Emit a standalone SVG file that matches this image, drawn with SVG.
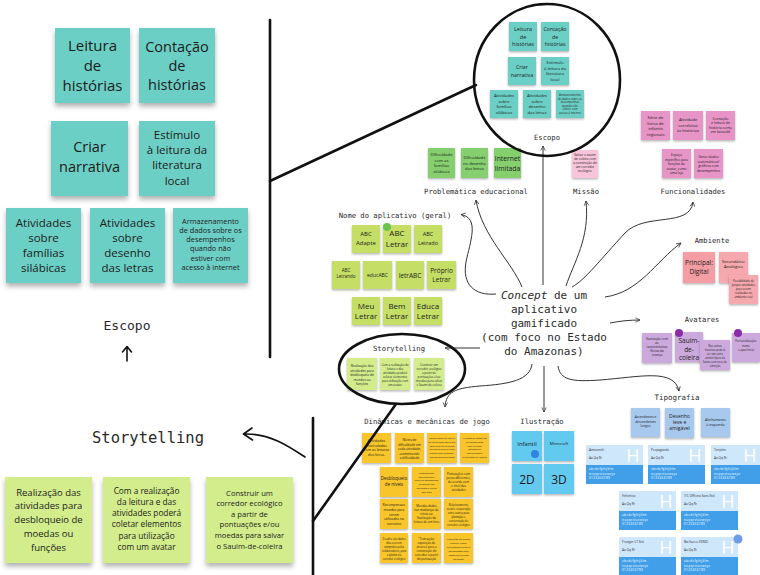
<svg xmlns="http://www.w3.org/2000/svg" width="760" height="575" viewBox="0 0 760 575">
<style>
.s{font-family:"Open Sans","Noto Sans",sans-serif;fill:#1c1c1c;text-anchor:middle}
.m{font-family:"DejaVu Sans Mono","Liberation Mono",monospace;fill:#2a2a2a;text-anchor:middle}
.teal{fill:#6CCFC5}.grn{fill:#86CF6E}.lime{fill:#C5DF66}.lg{fill:#D3EC8C}.pk{fill:#F7C4D9}.mg{fill:#E795C6}.sal{fill:#F39DA4}.sal2{fill:#F5A8AE}.lav{fill:#CCA9DD}.yel{fill:#F8C52C}.blu{fill:#62C9EF}.per{fill:#A8C9EE}
.big{filter:url(#sh)}.sm{filter:url(#ss)}
.thick{fill:none;stroke:#111;stroke-width:2.6;stroke-linecap:round}
.con{fill:none;stroke:#333;stroke-width:1;marker-end:url(#ah)}
.hand{fill:none;stroke:#111;stroke-width:1.6;stroke-linecap:round;stroke-linejoin:round}
.ct{fill:#CFE7FB}.cb{fill:#419FEA}
.t1{font-family:"Open Sans",sans-serif;font-size:3.2px;fill:#333}
.t2{font-family:"Open Sans",sans-serif;font-size:3px;fill:#fff;letter-spacing:0.4px}
.H{font-family:"Open Sans",sans-serif;font-size:18px;fill:#fff;text-anchor:middle}
</style>
<defs>
<filter id="sh" x="-15%" y="-15%" width="130%" height="145%"><feDropShadow dx="0" dy="3.5" stdDeviation="2.5" flood-color="#000" flood-opacity="0.3"/></filter>
<filter id="ss" x="-15%" y="-15%" width="130%" height="145%"><feDropShadow dx="0" dy="1.3" stdDeviation="0.9" flood-color="#000" flood-opacity="0.3"/></filter>
<marker id="ah" viewBox="0 0 8 8" refX="7" refY="4" markerWidth="6" markerHeight="6" orient="auto" markerUnits="userSpaceOnUse"><path d="M1,1 L7,4 L1,7" fill="none" stroke="#333" stroke-width="1"/></marker>
</defs>
<rect width="760" height="575" fill="#fff"/>

<!-- Left panel: Escopo -->
<g id="esc-big-1"><rect class="teal big" x="55" y="28" width="75" height="75"/><text class="s" font-size="15"><tspan x="92.5" y="51">Leitura</tspan><tspan x="92.5" y="71">de</tspan><tspan x="92.5" y="91">histórias</tspan></text></g>
<g id="esc-big-2"><rect class="teal big" x="139" y="28" width="76" height="75"/><text class="s" font-size="14.5"><tspan x="177" y="52">Contação</tspan><tspan x="177" y="71">de</tspan><tspan x="177" y="90">histórias</tspan></text></g>
<g id="esc-big-3"><rect class="teal big" x="51" y="121" width="77" height="75"/><text class="s" font-size="14.5"><tspan x="89.5" y="152">Criar</tspan><tspan x="89.5" y="172">narrativa</tspan></text></g>
<g id="esc-big-4"><rect class="teal big" x="139" y="121" width="76" height="75"/><text class="s" font-size="11.5"><tspan x="177" y="139">Estímulo</tspan><tspan x="177" y="154">à leitura da</tspan><tspan x="177" y="169">literatura</tspan><tspan x="177" y="185">local</tspan></text></g>
<g id="esc-big-5"><rect class="teal big" x="6" y="208" width="75" height="75"/><text class="s" font-size="11.5"><tspan x="43.5" y="227">Atividades</tspan><tspan x="43.5" y="242">sobre</tspan><tspan x="43.5" y="257">famílias</tspan><tspan x="43.5" y="272">silábicas</tspan></text></g>
<g id="esc-big-6"><rect class="teal big" x="90" y="208" width="75" height="75"/><text class="s" font-size="11.5"><tspan x="127.5" y="227">Atividades</tspan><tspan x="127.5" y="242">sobre</tspan><tspan x="127.5" y="257">desenho</tspan><tspan x="127.5" y="272">das letras</tspan></text></g>
<g id="esc-big-7"><rect class="teal big" x="173" y="208" width="75" height="75"/><text class="s" font-size="7.3"><tspan x="210.5" y="223.5">Armazenamento</tspan><tspan x="210.5" y="232.8">de dados sobre os</tspan><tspan x="210.5" y="242">desempenhos</tspan><tspan x="210.5" y="251.4">quando não</tspan><tspan x="210.5" y="260.7">estiver com</tspan><tspan x="210.5" y="270">acesso à internet</tspan></text></g>
<g id="esc-big-label"><text class="m" x="127" y="330" font-size="13">Escopo</text><path class="hand" d="M127,361 V347 M122.5,352 L127,346.5 L131.5,352"/></g>

<!-- Left panel: Storytelling -->
<g id="story-big-label"><text class="m" x="148" y="443" font-size="15.5">Storytelling</text><path class="hand" d="M305,457 C290,447 270,433 244,434 M252,428 L243.5,434 L252.5,440"/></g>
<g id="story-big-1"><rect class="lg big" x="5" y="477" width="87" height="86"/><text class="s" font-size="9.5"><tspan x="48.5" y="495.5">Realização das</tspan><tspan x="48.5" y="509">atividades para</tspan><tspan x="48.5" y="522.5">desbloqueio de</tspan><tspan x="48.5" y="536.5">moedas ou</tspan><tspan x="48.5" y="550.5">funções</tspan></text></g>
<g id="story-big-2"><rect class="lg big" x="103" y="477" width="87" height="86"/><text class="s" font-size="8.3"><tspan x="146.5" y="493.5">Com a realização</tspan><tspan x="146.5" y="504.5">da leitura e das</tspan><tspan x="146.5" y="516">atividades poderá</tspan><tspan x="146.5" y="527">coletar elementos</tspan><tspan x="146.5" y="538.5">para utilização</tspan><tspan x="146.5" y="549.5">com um avatar</tspan></text></g>
<g id="story-big-3"><rect class="lg big" x="206" y="477" width="87" height="86"/><text class="s" font-size="7.6"><tspan x="249.5" y="496">Construir um</tspan><tspan x="249.5" y="506">corredor ecológico</tspan><tspan x="249.5" y="516.5">a partir de</tspan><tspan x="249.5" y="527">pontuações e/ou</tspan><tspan x="249.5" y="538">moedas para salvar</tspan><tspan x="249.5" y="549">o Sauim-de-coleira</tspan></text></g>

<!-- Center: concept -->
<g id="concept"><text class="m" font-size="11"><tspan x="544" y="298.5"><tspan font-style="italic">Concept</tspan> de um</tspan><tspan x="544" y="312.5">aplicativo</tspan><tspan x="544" y="326.5">gamificado</tspan><tspan x="544" y="340.5">(com foco no Estado</tspan><tspan x="544" y="354.5">do Amazonas)</tspan></text></g>

<!-- Escopo small -->
<g id="escopo">
<rect class="teal sm" x="509" y="22" width="28" height="29"/><text class="s" font-size="5.5"><tspan x="523" y="31">Leitura</tspan><tspan x="523" y="38.5">de</tspan><tspan x="523" y="46">histórias</tspan></text>
<rect class="teal sm" x="541" y="22" width="28" height="29"/><text class="s" font-size="5.2"><tspan x="555" y="31">Contação</tspan><tspan x="555" y="38.5">de</tspan><tspan x="555" y="46">histórias</tspan></text>
<rect class="teal sm" x="508" y="57" width="28" height="28"/><text class="s" font-size="5.3"><tspan x="522" y="68.5">Criar</tspan><tspan x="522" y="76.5">narrativa</tspan></text>
<rect class="teal sm" x="541" y="57" width="28" height="28"/><text class="s" font-size="4.2"><tspan x="555" y="64">Estímulo</tspan><tspan x="555" y="69.5">à leitura da</tspan><tspan x="555" y="75">literatura</tspan><tspan x="555" y="80.5">local</tspan></text>
<rect class="teal sm" x="490" y="90" width="28" height="28"/><text class="s" font-size="4.2"><tspan x="504" y="97">Atividades</tspan><tspan x="504" y="102.5">sobre</tspan><tspan x="504" y="108">famílias</tspan><tspan x="504" y="113.5">silábicas</tspan></text>
<rect class="teal sm" x="523" y="90" width="28" height="28"/><text class="s" font-size="4.2"><tspan x="537" y="97">Atividades</tspan><tspan x="537" y="102.5">sobre</tspan><tspan x="537" y="108">desenho</tspan><tspan x="537" y="113.5">das letras</tspan></text>
<rect class="teal sm" x="556" y="90" width="28" height="28"/><text class="s" font-size="2.8"><tspan x="570" y="96">Armazenamento</tspan><tspan x="570" y="99.5">de dados sobre os</tspan><tspan x="570" y="103">desempenhos</tspan><tspan x="570" y="106.5">quando não</tspan><tspan x="570" y="110">estiver com</tspan><tspan x="570" y="113.5">acesso à internet</tspan></text>
<text class="m" x="547" y="139.5" font-size="7.2">Escopo</text>
</g>

<!-- Problemática -->
<g id="problematica">
<rect class="grn sm" x="428" y="148" width="27" height="30"/><text class="s" font-size="4.2"><tspan x="441.5" y="156">Dificuldade</tspan><tspan x="441.5" y="161.5">com as</tspan><tspan x="441.5" y="167">famílias</tspan><tspan x="441.5" y="172.5">silábicas</tspan></text>
<rect class="grn sm" x="461" y="148" width="27" height="30"/><text class="s" font-size="4.2"><tspan x="474.5" y="159">Dificuldade</tspan><tspan x="474.5" y="164.5">no desenho</tspan><tspan x="474.5" y="170">das letras</tspan></text>
<rect class="grn sm" x="494" y="148" width="27" height="30"/><text class="s" font-size="6.8"><tspan x="507.5" y="160.5">Internet</tspan><tspan x="507.5" y="170.5">limitada</tspan></text>
<text class="m" x="476" y="193.5" font-size="7.2">Problemática educacional</text>
</g>

<!-- Missão -->
<g id="missao">
<rect class="pk sm" x="572" y="150" width="26" height="28"/><text class="s" font-size="3.2"><tspan x="585" y="156">Salvar o sauim</tspan><tspan x="585" y="160">de coleira com</tspan><tspan x="585" y="164">a construção de</tspan><tspan x="585" y="168">um corredor</tspan><tspan x="585" y="172">ecológico</tspan></text>
<text class="m" x="586" y="193.5" font-size="7.2">Missão</text>
</g>

<!-- Funcionalidades -->
<g id="funcionalidades">
<rect class="mg sm" x="641" y="111" width="29" height="29"/><text class="s" font-size="4.2"><tspan x="655.5" y="119">Série de</tspan><tspan x="655.5" y="124.5">livros de</tspan><tspan x="655.5" y="130">infantis</tspan><tspan x="655.5" y="135.5">regionais</tspan></text>
<rect class="mg sm" x="673" y="111" width="30" height="29"/><text class="s" font-size="4.2"><tspan x="688" y="121">Atividade</tspan><tspan x="688" y="126.5">correlatas</tspan><tspan x="688" y="132">às histórias</tspan></text>
<rect class="mg sm" x="706" y="111" width="29" height="29"/><text class="s" font-size="3.6"><tspan x="720.5" y="119.5">Contação</tspan><tspan x="720.5" y="124">e leitura de</tspan><tspan x="720.5" y="128.5">história como</tspan><tspan x="720.5" y="133">em karaokê</tspan></text>
<rect class="mg sm" x="662" y="149" width="29" height="29"/><text class="s" font-size="3.3"><tspan x="676.5" y="156">Espaço</tspan><tspan x="676.5" y="160.5">específico para</tspan><tspan x="676.5" y="165">funções do</tspan><tspan x="676.5" y="169.5">avatar, como</tspan><tspan x="676.5" y="174">uma loja</tspan></text>
<rect class="mg sm" x="694" y="149" width="29" height="29"/><text class="s" font-size="3.5"><tspan x="708.5" y="158">Gerar dados</tspan><tspan x="708.5" y="162.5">automáticos/</tspan><tspan x="708.5" y="167">gráficos com</tspan><tspan x="708.5" y="171.5">desempenhos</tspan></text>
<text class="m" x="693" y="194" font-size="7.2">Funcionalidades</text>
</g>

<!-- Nome do aplicativo -->
<g id="nome">
<text class="m" x="395" y="217.5" font-size="7.2">Nome do aplicativo (geral)</text>
<rect class="lime sm" x="352" y="225" width="28" height="28"/><text class="s" font-size="6"><tspan x="366" y="236">ABC</tspan><tspan x="366" y="245">Adapte</tspan></text>
<rect class="lime sm" x="383" y="225" width="28" height="28"/><text class="s" font-size="8"><tspan x="397" y="235.5">ABC</tspan><tspan x="397" y="246.5">Letrar</tspan></text>
<circle cx="387" cy="227" r="4" fill="#6CC24A"/>
<rect class="lime sm" x="414" y="225" width="28" height="28"/><text class="s" font-size="5.5"><tspan x="428" y="236">ABC</tspan><tspan x="428" y="244.5">Letrado</tspan></text>
<rect class="lime sm" x="332" y="261" width="28" height="28"/><text class="s" font-size="4.5"><tspan x="346" y="272">ABC</tspan><tspan x="346" y="278">Letrando</tspan></text>
<rect class="lime sm" x="363" y="261" width="29" height="28"/><text class="s" font-size="5" x="377.5" y="277">educABC</text>
<rect class="lime sm" x="396" y="261" width="28" height="28"/><text class="s" font-size="6.5" x="410" y="277.5">letrABC</text>
<rect class="lime sm" x="427" y="261" width="29" height="28"/><text class="s" font-size="6.5"><tspan x="441.5" y="273">Próprio</tspan><tspan x="441.5" y="282">Letrar</tspan></text>
<rect class="lime sm" x="352" y="297" width="28" height="28"/><text class="s" font-size="8"><tspan x="366" y="308.5">Meu</tspan><tspan x="366" y="319">Letrar</tspan></text>
<rect class="lime sm" x="383" y="297" width="28" height="28"/><text class="s" font-size="8"><tspan x="397" y="308.5">Bem</tspan><tspan x="397" y="319">Letrar</tspan></text>
<rect class="lime sm" x="414" y="297" width="28" height="28"/><text class="s" font-size="8"><tspan x="428" y="308.5">Educa</tspan><tspan x="428" y="319">Letrar</tspan></text>
</g>

<!-- Storytelling small -->
<g id="storytelling">
<text class="m" x="399" y="350.5" font-size="7.2">Storytelling</text>
<rect class="lg sm" x="347" y="358" width="30" height="32"/><text class="s" font-size="3.3"><tspan x="362" y="367">Realização das</tspan><tspan x="362" y="371.5">atividades para</tspan><tspan x="362" y="376">desbloqueio de</tspan><tspan x="362" y="380.5">moedas ou</tspan><tspan x="362" y="385">funções</tspan></text>
<rect class="lg sm" x="380" y="358" width="30" height="32"/><text class="s" font-size="2.9"><tspan x="395" y="366">Com a realização da</tspan><tspan x="395" y="370">leitura e das</tspan><tspan x="395" y="374">atividades poderá</tspan><tspan x="395" y="378">coletar elementos</tspan><tspan x="395" y="382">para utilização com</tspan><tspan x="395" y="386">um avatar</tspan></text>
<rect class="lg sm" x="414" y="358" width="30" height="32"/><text class="s" font-size="2.9"><tspan x="429" y="366">Construir um</tspan><tspan x="429" y="370">corredor ecológico</tspan><tspan x="429" y="374">a partir de</tspan><tspan x="429" y="378">pontuações e/ou</tspan><tspan x="429" y="382">moedas para salvar</tspan><tspan x="429" y="386">o Sauim-de-coleira</tspan></text>
</g>

<!-- Ambiente -->
<g id="ambiente">
<text class="m" x="712" y="242.5" font-size="7.2">Ambiente</text>
<rect class="sal sm" x="683" y="252" width="32" height="31"/><text class="s" font-size="6.5"><tspan x="699" y="265">Principal:</tspan><tspan x="699" y="274">Digital</tspan></text>
<rect class="sal2 sm" x="719" y="252" width="29" height="31"/><text class="s" font-size="4.2"><tspan x="733.5" y="263">Secundário:</tspan><tspan x="733.5" y="268">Analógico</tspan></text>
<rect class="sal2 sm" x="729" y="275" width="29" height="29"/><text class="s" font-size="2.8"><tspan x="743.5" y="281.5">Possibilidade de</tspan><tspan x="743.5" y="285.5">propor atividades</tspan><tspan x="743.5" y="289.5">para serem</tspan><tspan x="743.5" y="293.5">realizadas no</tspan><tspan x="743.5" y="297.5">ambiente real</tspan></text>
</g>

<!-- Avatares -->
<g id="avatares">
<text class="m" x="702" y="321.5" font-size="7.2">Avatares</text>
<rect class="lav sm" x="642" y="333" width="30" height="30"/><text class="s" font-size="3.2"><tspan x="657" y="340">Ilustração com</tspan><tspan x="657" y="344">as</tspan><tspan x="657" y="348">características</tspan><tspan x="657" y="352">físicas da</tspan><tspan x="657" y="356">criança</tspan></text>
<rect class="lav sm" x="675" y="332" width="28" height="30"/><text class="s" font-size="6.5"><tspan x="689" y="343">Sauim-</tspan><tspan x="689" y="351.5">de-</tspan><tspan x="689" y="360">coleira</tspan></text>
<circle cx="679" cy="333" r="4" fill="#8B2BA6"/>
<rect class="lav sm" x="700" y="340" width="30" height="30"/><text class="s" font-size="2.7"><tspan x="715" y="347">Nas outras</tspan><tspan x="715" y="351">histórias poderá</tspan><tspan x="715" y="355">ser um outro</tspan><tspan x="715" y="359">animal típico da</tspan><tspan x="715" y="363">fauna com risco de</tspan><tspan x="715" y="367">extinção</tspan></text>
<rect class="lav sm" x="732" y="333" width="28" height="29"/><text class="s" font-size="3"><tspan x="746" y="342">Personalização:</tspan><tspan x="746" y="346.5">nome</tspan><tspan x="746" y="351">e aparência</tspan></text>
<circle cx="738" cy="333" r="4" fill="#8B2BA6"/>
</g>

<!-- Dinâmicas -->
<g id="dinamicas">
<text class="m" x="427" y="423.5" font-size="7.2">Dinâmicas e mecânicas de jogo</text>
<rect class="yel sm" x="362" y="433" width="29" height="30"/><text class="s" font-size="3.6"><tspan x="376.5" y="442">Atividades</tspan><tspan x="376.5" y="446.5">intercaladas</tspan><tspan x="376.5" y="451">com as leituras</tspan><tspan x="376.5" y="455.5">dos livros.</tspan></text>
<rect class="yel sm" x="395" y="433" width="29" height="30"/><text class="s" font-size="3.3"><tspan x="409.5" y="441">Níveis de</tspan><tspan x="409.5" y="445.5">dificuldade em</tspan><tspan x="409.5" y="450">cada atividade,</tspan><tspan x="409.5" y="454.5">aumentando</tspan><tspan x="409.5" y="459">a dificuldade</tspan></text>
<rect class="yel sm" x="427" y="433" width="30" height="30"/><text class="s" font-size="2.4"><tspan x="442" y="439">Possibilidade de repetir</tspan><tspan x="442" y="442.8">os níveis caso não atinja</tspan><tspan x="442" y="446.6">bom nível na atividade</tspan><tspan x="442" y="450.4">ou queira refazer para</tspan><tspan x="442" y="454.2">ganhar mais moedas /</tspan><tspan x="442" y="458">pontos movimentados</tspan></text>
<rect class="yel sm" x="460" y="433" width="29" height="30"/><text class="s" font-size="2.4"><tspan x="474.5" y="439">Ativação de ações nas</tspan><tspan x="474.5" y="442.8">atividades após</tspan><tspan x="474.5" y="446.6">finalizar com</tspan><tspan x="474.5" y="450.4">mensagens</tspan><tspan x="474.5" y="454.2">motivacionais</tspan><tspan x="474.5" y="458">e indicação de reforço</tspan></text>
<rect class="yel sm" x="380" y="467" width="28" height="30"/><text class="s" font-size="4.5"><tspan x="394" y="480">Desbloqueio</tspan><tspan x="394" y="486">de níveis</tspan></text>
<rect class="yel sm" x="412" y="467" width="29" height="30"/><text class="s" font-size="2.3"><tspan x="426.5" y="474">Recompensas</tspan><tspan x="426.5" y="477.7">colecionáveis a</tspan><tspan x="426.5" y="481.4">partir do desempenho</tspan><tspan x="426.5" y="485.1">do jogador nas</tspan><tspan x="426.5" y="488.8">atividades e leitura</tspan><tspan x="426.5" y="492.5">dos livros</tspan></text>
<rect class="yel sm" x="444" y="467" width="29" height="30"/><text class="s" font-size="3"><tspan x="458.5" y="475">Pontuações com</tspan><tspan x="458.5" y="479">pesos diferentes,</tspan><tspan x="458.5" y="483">de acordo com</tspan><tspan x="458.5" y="487">o nível das</tspan><tspan x="458.5" y="491">atividades</tspan></text>
<rect class="yel sm" x="380" y="499" width="28" height="30"/><text class="s" font-size="3.4"><tspan x="394" y="506">Recompensas:</tspan><tspan x="394" y="510.8">moedas para</tspan><tspan x="394" y="515.6">serem</tspan><tspan x="394" y="520.4">utilizadas na</tspan><tspan x="394" y="525.2">narrativa</tspan></text>
<rect class="yel sm" x="412" y="499" width="29" height="30"/><text class="s" font-size="3"><tspan x="426.5" y="507">Moedas dadas</tspan><tspan x="426.5" y="511">nas mudanças de</tspan><tspan x="426.5" y="515">níveis ou</tspan><tspan x="426.5" y="519">finalização da</tspan><tspan x="426.5" y="523">leitura de um livro</tspan></text>
<rect class="yel sm" x="444" y="499" width="29" height="30"/><text class="s" font-size="2.6"><tspan x="458.5" y="506">Relacionamento</tspan><tspan x="458.5" y="510">social e cooperação</tspan><tspan x="458.5" y="514">entre outros para</tspan><tspan x="458.5" y="518">plantação e</tspan><tspan x="458.5" y="522">conservação do</tspan><tspan x="458.5" y="526">corredor ecológico</tspan></text>
<rect class="yel sm" x="380" y="533" width="28" height="30"/><text class="s" font-size="2.6"><tspan x="394" y="540">Desafio: são dados</tspan><tspan x="394" y="544">dias a serem</tspan><tspan x="394" y="548">cumpridos pelos</tspan><tspan x="394" y="552">colaboradores, para</tspan><tspan x="394" y="556">o plantio no</tspan><tspan x="394" y="560">corredor ecológico</tspan></text>
<rect class="yel sm" x="412" y="533" width="29" height="30"/><text class="s" font-size="3"><tspan x="426.5" y="540">"Transação:</tspan><tspan x="426.5" y="544">aquisição de</tspan><tspan x="426.5" y="548">árvores para a</tspan><tspan x="426.5" y="552">construção do</tspan><tspan x="426.5" y="556">corredor a partir</tspan><tspan x="426.5" y="560">da pontuação</tspan></text>
<rect class="yel sm" x="444" y="533" width="29" height="30"/><text class="s" font-size="2.5"><tspan x="458.5" y="540">Ilustração de árvore</tspan><tspan x="458.5" y="544">plantar: visual</tspan><tspan x="458.5" y="548">interessante quanto</tspan><tspan x="458.5" y="552">adicionados para</tspan><tspan x="458.5" y="556">conquista (aliado</tspan><tspan x="458.5" y="560">ao mapa)</tspan></text>
</g>

<!-- Ilustração -->
<g id="ilustracao">
<text class="m" x="542" y="423.5" font-size="7.2">Ilustração</text>
<rect class="blu sm" x="512" y="431" width="30" height="30"/><text class="s" font-size="6" x="527" y="446">Infantil</text>
<circle cx="535" cy="454" r="4" fill="#2F86E0"/>
<rect class="blu sm" x="544" y="431" width="30" height="30"/><text class="s" font-size="4.2" x="559" y="445">Minecraft</text>
<rect class="blu sm" x="512" y="464" width="30" height="30"/><text class="s" font-size="12" x="527" y="484">2D</text>
<rect class="blu sm" x="544" y="464" width="30" height="30"/><text class="s" font-size="12" x="559" y="484">3D</text>
</g>

<!-- Tipografia -->
<g id="tipografia">
<text class="m" x="677" y="400" font-size="7.5">Tipografia</text>
<rect class="per sm" x="631" y="408" width="29" height="29"/><text class="s" font-size="3.2"><tspan x="645.5" y="418">Ascendentes e</tspan><tspan x="645.5" y="422.5">descendentes</tspan><tspan x="645.5" y="427">longos</tspan></text>
<rect class="per sm" x="665" y="408" width="29" height="30"/><text class="s" font-size="5"><tspan x="679.5" y="418">Desenho</tspan><tspan x="679.5" y="424">leve e</tspan><tspan x="679.5" y="430">amigável</tspan></text>
<rect class="per sm" x="701" y="408" width="29" height="29"/><text class="s" font-size="3.5"><tspan x="715.5" y="421">Alinhamento</tspan><tspan x="715.5" y="425.5">à esquerda</tspan></text>
</g>
<g id="font-amaranth"><rect class="ct" x="586" y="445" width="57" height="20"/><rect class="cb" x="586" y="465" width="57" height="19"/><text class="t1" x="589" y="451">Amaranth</text><text class="t1" x="589" y="459">Aa   Qq   Rr</text><text class="H" x="633" y="462">H</text><text class="t2"><tspan x="589" y="470">abcdefghijklm</tspan><tspan x="589" y="474.5">nopqrstuvwxyz</tspan><tspan x="589" y="479">0123456789</tspan></text></g>
<g id="font-2"><rect class="ct" x="648" y="445" width="57" height="20"/><rect class="cb" x="648" y="465" width="57" height="19"/><text class="t1" x="651" y="451">Propaganda</text><text class="t1" x="651" y="459">Aa   Qq   Rr</text><text class="H" x="695" y="462">H</text><text class="t2"><tspan x="651" y="470">abcdefghijklm</tspan><tspan x="651" y="474.5">nopqrstuvwxyz</tspan><tspan x="651" y="479">0123456789</tspan></text></g>
<g id="font-3"><rect class="ct" x="711" y="445" width="50" height="20"/><rect class="cb" x="711" y="465" width="50" height="19"/><text class="t1" x="714" y="451">Tenplen</text><text class="t1" x="714" y="459">Aa  Qq  Rr</text><text class="H" x="750" y="462">H</text><text class="t2"><tspan x="714" y="470">abcdefghijklm</tspan><tspan x="714" y="474.5">nopqrstuvwxyz</tspan><tspan x="714" y="479">0123456789</tspan></text></g>
<g id="font-helvetica"><rect class="ct" x="619" y="491" width="57" height="20"/><rect class="cb" x="619" y="511" width="57" height="19"/><text class="t1" x="622" y="497">Helvetica</text><text class="t1" x="622" y="505">Aa   Qq   Rr</text><text class="H" x="666" y="508">H</text><text class="t2"><tspan x="622" y="516">abcdefghijklm</tspan><tspan x="622" y="520.5">nopqrstuvwxyz</tspan><tspan x="622" y="525">0123456789</tspan></text></g>
<g id="font-officina"><rect class="ct" x="681" y="491" width="57" height="20"/><rect class="cb" x="681" y="511" width="57" height="19"/><text class="t1" x="684" y="497">ITC Officina Sans Std</text><text class="t1" x="684" y="505">Aa   Qq   Rr</text><text class="H" x="728" y="508">H</text><text class="t2"><tspan x="684" y="516">abcdefghijklm</tspan><tspan x="684" y="520.5">nopqrstuvwxyz</tspan><tspan x="684" y="525">0123456789</tspan></text></g>
<g id="font-frutiger"><rect class="ct" x="619" y="537" width="57" height="20"/><rect class="cb" x="619" y="557" width="57" height="19"/><text class="t1" x="622" y="543">Frutiger LT Std</text><text class="t1" x="622" y="551">Aa   Qq   Rr</text><text class="H" x="666" y="554">H</text><text class="t2"><tspan x="622" y="562">abcdefghijklm</tspan><tspan x="622" y="566.5">nopqrstuvwxyz</tspan><tspan x="622" y="571">0123456789</tspan></text></g>
<g id="font-bwsurco"><rect class="ct" x="681" y="537" width="57" height="20"/><rect class="cb" x="681" y="557" width="57" height="19"/><text class="t1" x="684" y="543">Bw Surco DEMO</text><text class="t1" x="684" y="551">Aa   Qq   Rr</text><text class="H" x="728" y="554">H</text><text class="t2"><tspan x="684" y="562">abcdefghijklm</tspan><tspan x="684" y="566.5">nopqrstuvwxyz</tspan><tspan x="684" y="571">0123456789</tspan></text><circle cx="738" cy="539" r="4.5" fill="#6F9CE6"/></g>

<!-- Connectors -->
<g id="connectors">
<path class="con" d="M543,285 L543,146"/>
<path class="con" d="M522,287 C512,262 482,236 476,200"/>
<path class="con" d="M566,286 C574,262 590,238 586,201"/>
<path class="con" d="M496,294 C474,296 462,284 466,262 C470,242 480,218 461,214.5"/>
<path class="con" d="M572,287 C585,280 600,260 625,233 C645,212 690,228 693,202"/>
<path class="con" d="M605,297 C640,292 655,262 681,243"/>
<path class="con" d="M610,323 C620,321 630,320 640,320"/>
<path class="con" d="M558,366 C560,380 572,382 600,380 C640,377 674,368 679,391"/>
<path class="con" d="M544,366 L544,412"/>
<path class="con" d="M532,364 C530,380 510,384 480,386 C455,388 446,392 445,407"/>
<path class="con" d="M480,348 L445,348"/>
</g>

<!-- Thick callout lines -->
<g id="callouts">
<path class="thick" d="M270,20 V357"/>
<path class="thick" d="M270,181 L476,85"/>
<ellipse class="thick" cx="547" cy="80" rx="73" ry="76"/>
<path class="thick" d="M313,418 V575"/>
<path class="thick" d="M313,521 L396,404"/>
<ellipse class="thick" cx="402" cy="369" rx="63" ry="35"/>
</g>
</svg>
